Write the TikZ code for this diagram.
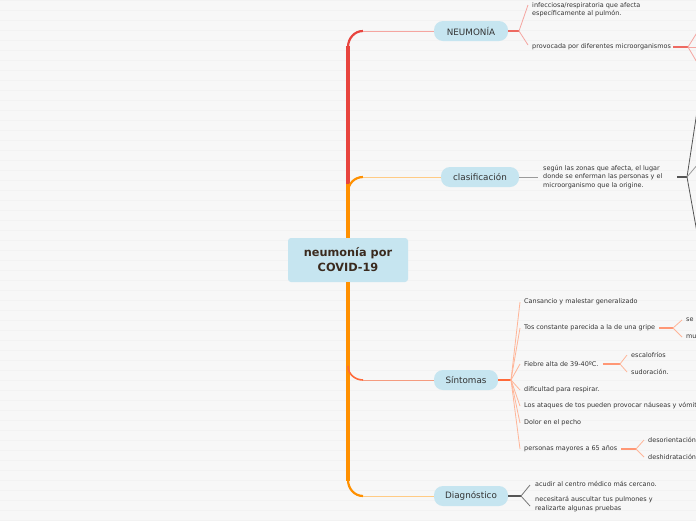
\documentclass[tikz,border=0pt]{standalone}
\usepackage{fontspec}
\setmainfont{DejaVu Sans}
\definecolor{bg}{HTML}{F7F7F7}
\definecolor{stripe}{HTML}{F2F2F2}
\definecolor{topicfill}{HTML}{C6E5F0}
\definecolor{txt}{HTML}{333333}
\definecolor{roottxt}{HTML}{3A2A1E}
\definecolor{redtrunk}{HTML}{E8443E}
\definecolor{redthin}{HTML}{F5A5A0}
\definecolor{redmid}{HTML}{EE6A62}
\definecolor{orgtrunk}{HTML}{FF9000}
\definecolor{orgthin}{HTML}{FFCB85}
\definecolor{symthin}{HTML}{F59C80}
\definecolor{symstem}{HTML}{FF6A3A}
\definecolor{symfan}{HTML}{FFB598}
\definecolor{graythin}{HTML}{9A9A9A}
\definecolor{graydark}{HTML}{555555}
\tikzset{
  topic/.style={fill=topicfill, rounded corners=9pt, minimum height=20pt, inner xsep=0pt, text=txt, font=\fontsize{8.8}{10}\selectfont},
  leaf/.style={anchor=west, inner sep=0pt, align=left, text=txt, font=\fontsize{6.45}{8.4}\selectfont},
  thin/.style={line width=0.8pt},
}
\begin{document}
\begin{tikzpicture}[x=1pt,y=-1pt]
\useasboundingbox (0,0) rectangle (696,520);
\fill[bg] (0,0) rectangle (696,520);
\foreach \yy in {0,10,...,520} \draw[stripe, line width=1pt] (0,\yy) -- (696,\yy);
\clip (0,0) rectangle (696,520);

% root
\node[fill=topicfill, rounded corners=3pt, minimum width=120pt, minimum height=44pt, align=center, text=roottxt, font=\fontsize{11.3}{15}\selectfont\bfseries] (root) at (348,260) {neumonía por\\COVID-19};

% main topics
\node[topic, minimum width=74pt] (neu) at (471,31) {NEUMONÍA};
\node[topic, minimum width=78pt] (cla) at (480,177) {clasificación};
\node[topic, minimum width=64pt] (sin) at (466,380) {Síntomas};
\node[topic, minimum width=74pt] (dia) at (471,496) {Diagnóstico};

% trunk
\coordinate (t1) at (363,31);
\coordinate (t2) at (363,177);
\coordinate (t3) at (363,380);
\coordinate (t4) at (363,496);
\draw[redtrunk, line width=4.2pt] (348,192) -- (348,46);
\draw[redtrunk, line width=2.2pt] (348,47) to[out=90,in=180] (t1);
\draw[orgtrunk, line width=4.2pt] (348,184) -- (348,238);
\draw[orgtrunk, line width=4.2pt] (348,282) -- (348,481);
\draw[orgtrunk, line width=2.2pt] (348,192) to[out=90,in=180] (t2);
\draw[symstem, line width=1.6pt] (348,366) to[out=-90,in=180] (t3);
\draw[orgtrunk, line width=2.2pt] (348,480) to[out=-90,in=180] (t4);
\draw[redthin, thin] (t1) -- (neu.west);
\draw[orgthin, thin] (t2) -- (cla.west);
\draw[symthin, thin] (t3) -- (sin.west);
\draw[orgthin, thin] (t4) -- (dia.west);

% NEUMONIA children
\node[leaf] (n1) at (532,10) {infecciosa/respiratoria que afecta\\específicamente al pulmón.};
\node[leaf] (n2) at (532,47) {provocada por diferentes microorganismos};
\coordinate (nf) at (519,31);
\draw[redmid, line width=1.2pt] (neu.east) -- (nf);
\draw[redthin, thin] (nf) -- (528,5);
\draw[redthin, thin] (nf) -- (528,45);
\coordinate (n2f) at (688,47);
\draw[redmid, line width=1.2pt] ([xshift=2pt]n2.east) -- (n2f);
\draw[redthin, thin] (n2f) -- (698,31);
\draw[redthin, thin] (n2f) -- (698,47);
\draw[redthin, thin] (n2f) -- (698,64);

% clasificacion children
\node[leaf] (c1) at (543,177) {según las zonas que afecta, el lugar\\donde se enferman las personas y el\\microorganismo que la origine.};
\draw[graythin, line width=1pt] (cla.east) -- ([xshift=-5pt]c1.west);
\coordinate (cf) at (687,177);
\draw[graydark, line width=1.2pt] (677,177) -- (cf);
\draw[graydark, thin] (cf) -- (698,105);
\draw[graythin, thin] (cf) -- (698,164);
\draw[graydark, thin] (cf) -- (698,238);

% Sintomas children
\coordinate (sf) at (511,380);
\draw[symstem, line width=1.6pt] (sin.east) -- (sf);
\node[leaf] (s1) at (524,302) {Cansancio y malestar generalizado};
\node[leaf] (s2) at (524,328) {Tos constante parecida a la de una gripe};
\node[leaf] (s3) at (524,364) {Fiebre alta de 39-40ºC.};
\node[leaf] (s4) at (524,390) {dificultad para respirar.};
\node[leaf] (s5) at (524,406) {Los ataques de tos pueden provocar náuseas y vómitos};
\node[leaf] (s6) at (524,423) {Dolor en el pecho};
\node[leaf] (s7) at (524,449) {personas mayores a 65 años};
\foreach \s in {s1,s2,s3,s4,s5,s6,s7} \draw[symfan, thin] (sf) -- ([xshift=-4pt]\s.west);

% Tos sub
\coordinate (s2f) at (673,328);
\draw[symstem!70, line width=1.4pt] ([xshift=4pt]s2.east) -- (s2f);
\node[leaf] (s21) at (686,320) {se};
\node[leaf] (s22) at (686,337) {mu};
\draw[symfan, thin] (s2f) -- ([xshift=-4pt]s21.west);
\draw[symfan, thin] (s2f) -- ([xshift=-4pt]s22.west);

% Fiebre sub
\coordinate (s3f) at (620,364);
\draw[symstem!70, line width=1.4pt] ([xshift=4pt]s3.east) -- (s3f);
\node[leaf] (s31) at (631,355) {escalofríos};
\node[leaf] (s32) at (631,372) {sudoración.};
\draw[symfan, thin] (s3f) -- ([xshift=-4pt]s31.west);
\draw[symfan, thin] (s3f) -- ([xshift=-4pt]s32.west);

% Personas sub
\coordinate (s7f) at (636,449);
\draw[symstem!70, line width=1.4pt] ([xshift=4pt]s7.east) -- (s7f);
\node[leaf] (s71) at (648,440) {desorientación};
\node[leaf] (s72) at (648,457) {deshidratación};
\draw[symfan, thin] (s7f) -- ([xshift=-4pt]s71.west);
\draw[symfan, thin] (s7f) -- ([xshift=-4pt]s72.west);

% Diagnostico children
\coordinate (df) at (521,496);
\draw[graydark, line width=1.2pt] (dia.east) -- (df);
\node[leaf] (d1) at (535,484) {acudir al centro médico más cercano.};
\node[leaf] (d2) at (535,504) {necesitará auscultar tus pulmones y\\realizarte algunas pruebas};
\draw[graydark!80, thin] (df) -- (530,485);
\draw[graydark!80, thin] (df) -- (530,506);
\end{tikzpicture}
\end{document}
